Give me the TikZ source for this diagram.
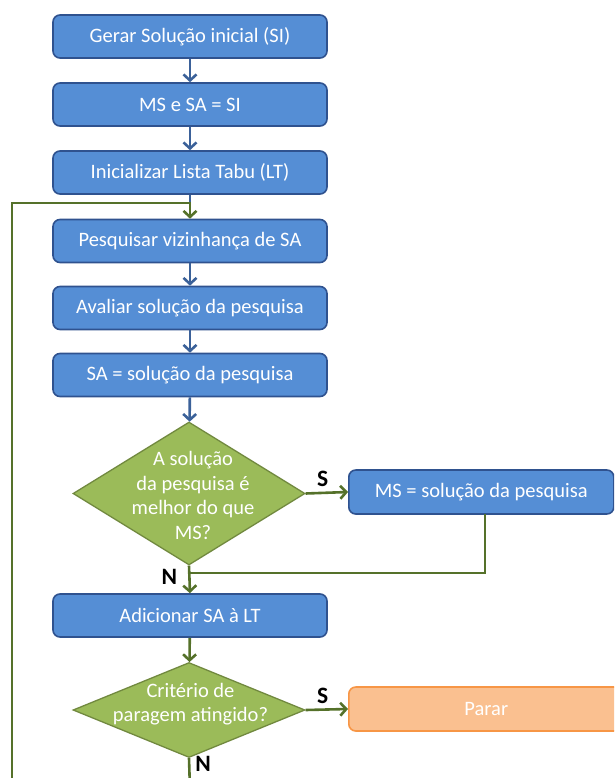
\documentclass[tikz,border=0pt]{standalone}
\usepackage{fontspec}
\setmainfont{Carlito}
\usetikzlibrary{shapes.geometric,arrows.meta,positioning}
\definecolor{boxblue}{HTML}{558ED5}
\definecolor{boxblueline}{HTML}{2F528F}
\definecolor{flowblue}{HTML}{3B6199}
\definecolor{diagreen}{HTML}{9BBB59}
\definecolor{diagreenline}{HTML}{71893F}
\definecolor{flowgreen}{HTML}{55712A}
\definecolor{stopfill}{HTML}{FAC090}
\definecolor{stopline}{HTML}{F79646}
\tikzset{
  boxfont/.style={font=\fontsize{20.5}{24.5}\selectfont},
  stepbox/.style={draw=boxblueline, line width=1.6pt, fill=boxblue, rounded corners=7pt,
    minimum width=274pt, minimum height=43pt, inner sep=0pt, text=white, boxfont},
  sidebox/.style={stepbox, minimum width=265pt, minimum height=44pt, anchor=west},
  stopbox/.style={sidebox, minimum width=275pt, draw=stopline, fill=stopfill},
  decision/.style={diamond, draw=diagreenline, line width=1.3pt, fill=diagreen, inner sep=0pt,
    minimum width=232pt},
  decisiontext/.style={text=white, align=center, inner sep=0pt, boxfont},
  tip/.style={-{Straight Barb[length=6pt,width=13pt,line width=2.6pt]}},
  blueline/.style={draw=flowblue, line width=2.6pt},
  blueflow/.style={blueline, tip},
  greenline/.style={draw=flowgreen, line width=2.6pt},
  greenflow/.style={greenline, tip},
  answer/.style={font=\fontsize{23.5}{25}\selectfont\bfseries, text=black, inner sep=0pt}
}
\begin{document}
\begin{tikzpicture}[x=1pt,y=-1pt]
  \useasboundingbox (0,0) rectangle (614,778);
  \clip (0,0) rectangle (614,778);
  % main column of steps
  \node[stepbox] (gerar) at (190,36.5) {Gerar Solução inicial (SI)};
  \node[stepbox] (msesa) at (190,104.5) {MS e SA = SI};
  \node[stepbox] (lista) at (190,172.5) {Inicializar Lista Tabu (LT)};
  \node[stepbox] (viz) at (190,241) {Pesquisar vizinhança de SA};
  \node[stepbox] (aval) at (190,308) {Avaliar solução da pesquisa};
  \node[stepbox] (saeq) at (190,375) {SA = solução da pesquisa};
  \node[decision, minimum height=143pt] (melhor) at (189,493.5) {};
  \node[decisiontext] (melhortxt) at (193,495.5)
    {A solução\\da pesquisa é\\melhor do que\\MS?};
  \node[sidebox] (mseq) at (348,492) {MS = solução da pesquisa};
  \node[stepbox] (adic) at (190,615.5) {Adicionar SA à LT};
  \node[decision, minimum height=95pt] (crit) at (189,710) {};
  \node[decisiontext] (crittxt) at (190.5,704) {Critério de\\paragem atingido?};
  \node[stopbox] (parar) at (348,709) {Parar};
  % corner and join points of the green lines
  \coordinate (top) at (190,203);
  \coordinate (loopcorner) at (12,203);
  \coordinate (loopfoot) at (12,790);
  \coordinate (msdrop) at (485,514);
  \coordinate (mscorner) at (485,573);
  \coordinate (merge) at (190,573);
  \coordinate (bottom) at (190,790);
  % flow between steps
  \draw[blueflow] (gerar) -- (msesa);
  \draw[blueflow] (msesa) -- (lista);
  \draw[blueline] (lista) -- (top);
  \draw[blueflow] (viz) -- (aval);
  \draw[blueflow] (aval) -- (saeq);
  \draw[blueflow] (saeq) -- (melhor);
  % first decision
  \draw[greenflow] (melhor.east) -- (mseq.west)
    node[answer, pos=0.4, above=5pt] {S};
  \draw[greenline] (msdrop) -- (mscorner) -- (merge);
  \draw[greenflow] (melhor.south) -- (adic.north)
    node[answer, pos=0.42, left=11pt] {N};
  % second decision
  \draw[greenflow] (adic) -- (crit);
  \draw[greenflow] (crit.east) -- (parar.west)
    node[answer, pos=0.4, above=5pt] {S};
  \draw[greenline] (crit.south) -- (bottom)
    node[answer, pos=0.17, right=5pt] {N};
  % loop back to the search step
  \draw[greenflow] (loopfoot) -- (loopcorner) -- (top) -- (viz.north);
\end{tikzpicture}
\end{document}
